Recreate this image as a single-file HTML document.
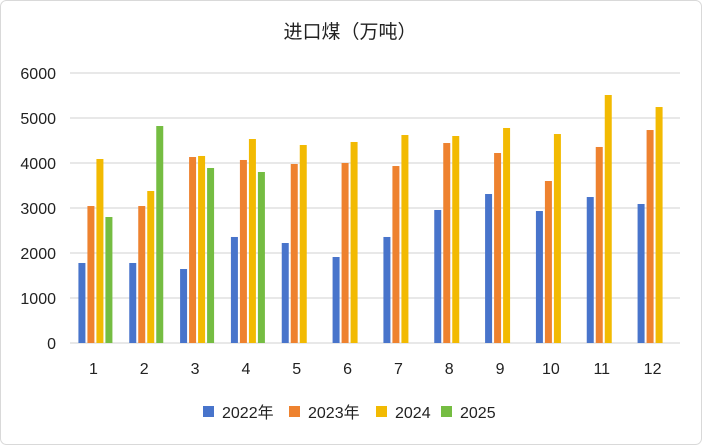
<!DOCTYPE html>
<html><head><meta charset="utf-8"><style>
body{margin:0;background:#fff;}
svg{display:block;font-family:"Liberation Sans","Noto Sans CJK SC",sans-serif;}
</style></head><body>
<svg id="chart" width="702" height="445">
<rect x="0.5" y="0.5" width="701" height="444" rx="6" fill="#fff" stroke="#d9d9d9"/>
<text x="350" y="38" text-anchor="middle" font-size="19" fill="#222">进口煤（万吨）</text>
<g id="grid"></g><g id="bars"></g><g id="labels"></g>
<g>
<g><rect x="203" y="406" width="11" height="11" fill="#4874cb"/><text x="222" y="418" font-size="16" fill="#222">2022年</text></g>
<g><rect x="289" y="406" width="11" height="11" fill="#ee822f"/><text x="308" y="418" font-size="16" fill="#222">2023年</text></g>
<g><rect x="376" y="406" width="11" height="11" fill="#f2ba02"/><text x="395" y="418" font-size="16" fill="#222">2024</text></g>
<g><rect x="441" y="406" width="11" height="11" fill="#75bd42"/><text x="460" y="418" font-size="16" fill="#222">2025</text></g>
</g>
</svg>
<script>
const categories=["1","2","3","4","5","6","7","8","9","10","11","12"];
const s2022=[1778,1778,1644,2356,2222,1911,2356,2956,3311,2933,3244,3089];
const s2023=[3044,3044,4133,4067,3978,4000,3933,4444,4222,3600,4356,4733];
const s2024=[4089,3378,4156,4533,4400,4467,4622,4600,4778,4644,5511,5244];
const s2025=[2800,4822,3889,3800,null,null,null,null,null,null,null,null];
const yTicks=[0,1000,2000,3000,4000,5000,6000];
const series=[s2022,s2023,s2024,s2025];
const seriesNames=["2022","2023","2024","2025"];
const colors=["#4874cb","#ee822f","#f2ba02","#75bd42"];
const NS="http://www.w3.org/2000/svg";
const x0=70,x1=680,y0=343,yTop=73,yMax=6000;
const y=v=>y0-(v/yMax)*(y0-yTop);
const cw=(x1-x0)/categories.length;
const cx=i=>x0+cw*(i+0.5);
const grid=document.getElementById('grid'),bars=document.getElementById('bars'),labels=document.getElementById('labels');
yTicks.forEach(t=>{
 const l=document.createElementNS(NS,'line');
 
 
 l.setAttribute('x1',x0);l.setAttribute('x2',x1);l.setAttribute('y1',y(t));l.setAttribute('y2',y(t));
 l.setAttribute('stroke','#d9d9d9');l.setAttribute('stroke-width','1.2');
 grid.appendChild(l);
 const tx=document.createElementNS(NS,'text');
 
 
 tx.setAttribute('x',56);tx.setAttribute('y',y(t)+6);tx.setAttribute('text-anchor','end');
 tx.setAttribute('font-size','16');tx.setAttribute('fill','#222');tx.textContent=t;
 labels.appendChild(tx);
});
categories.forEach((c,i)=>{
 const tx=document.createElementNS(NS,'text');
 
 
 tx.setAttribute('x',cx(i)-2);tx.setAttribute('y',374);tx.setAttribute('text-anchor','middle');
 tx.setAttribute('font-size','16');tx.setAttribute('fill','#222');tx.textContent=c;
 labels.appendChild(tx);
 series.forEach((s,k)=>{
  const v=s[i]; if(v==null) return;
  const r=document.createElementNS(NS,'rect');
  
  
  r.setAttribute('x',cx(i)-17+k*9);r.setAttribute('width',7);
  r.setAttribute('y',y(v));r.setAttribute('height',y0-y(v));
  r.setAttribute('fill',colors[k]);
  bars.appendChild(r);
 });
});
</script>
</body></html>
